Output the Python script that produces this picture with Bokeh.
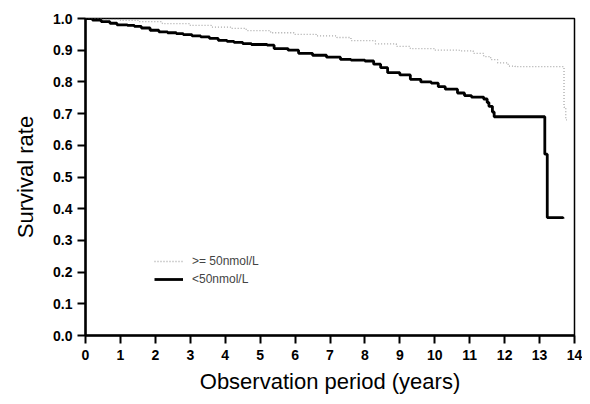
from bokeh.plotting import figure
from bokeh.models import Range1d, Legend, LegendItem, FixedTicker
from bokeh.embed import file_html
from bokeh.resources import INLINE

# <50 nmol/L group (Kaplan-Meier step points)
low_t = [0, 0.2, 0.45, 0.7, 0.9, 1.2, 1.4, 1.6, 1.85, 2.1, 2.35, 2.6, 2.8, 3.05, 3.3,
         3.55, 3.8, 4.05, 4.25, 4.5, 4.75, 5.2, 5.4, 5.8, 6.1, 6.5, 6.9, 7.3, 7.6, 8.0,
         8.25, 8.45, 8.65, 9.0, 9.3, 9.6, 9.9, 10.1, 10.3, 10.65, 10.85, 11.05, 11.4,
         11.5, 11.55, 11.65, 11.7, 13.15, 13.22, 13.67]
low_s = [1.0, 0.995, 0.99, 0.985, 0.98, 0.978, 0.975, 0.97, 0.963, 0.958, 0.955, 0.952,
         0.949, 0.945, 0.942, 0.937, 0.931, 0.928, 0.925, 0.921, 0.918, 0.916, 0.905,
         0.90, 0.89, 0.884, 0.878, 0.871, 0.869, 0.866, 0.856, 0.845, 0.829, 0.822,
         0.808, 0.80, 0.796, 0.785, 0.777, 0.765, 0.757, 0.752, 0.746, 0.735, 0.723,
         0.705, 0.69, 0.572, 0.372, 0.368]

# >=50 nmol/L group
high_t = [0, 0.5, 1.0, 1.5, 2.2, 3.0, 3.6, 4.15, 4.6, 5.3, 6.0, 6.6, 7.2, 7.6, 8.3,
          8.9, 9.3, 10.0, 10.7, 11.1, 11.4, 11.6, 11.8, 12.1, 12.3, 13.7, 13.75, 13.78]
high_s = [1.0, 0.997, 0.994, 0.99, 0.984, 0.978, 0.973, 0.969, 0.962, 0.955, 0.95,
          0.945, 0.94, 0.93, 0.92, 0.912, 0.905, 0.90, 0.898, 0.89, 0.88, 0.87, 0.86,
          0.85, 0.848, 0.72, 0.68, 0.68]

x_ticks = list(range(0, 15))
y_ticks = [0.0, 0.1, 0.2, 0.3, 0.4, 0.5, 0.6, 0.7, 0.8, 0.9, 1.0]
y_tick_labels = {v: f"{v:.1f}" for v in y_ticks}
labels = [">= 50nmol/L", "<50nmol/L"]

FONT = "Liberation Sans"

p = figure(width=582, height=396, output_backend="svg", toolbar_location=None,
           x_range=Range1d(0, 14), y_range=Range1d(0, 1.0),
           min_border_left=85, min_border_right=8, min_border_top=18, min_border_bottom=58)

p.xgrid.visible = False
p.ygrid.visible = False
p.outline_line_color = "black"
p.outline_line_width = 1.5
p.background_fill_color = "white"
p.border_fill_color = "white"

r_high = p.step(high_t, high_s, mode="after", line_color="#a8a8a8", line_width=1.3,
                line_dash="1 2")
r_low = p.step(low_t, low_s, mode="after", line_color="black", line_width=2.8)

for ax in (p.xaxis[0], p.yaxis[0]):
    ax.axis_line_width = 2.5
    ax.axis_line_color = "black"
    ax.major_tick_line_width = 2
    ax.major_tick_in = 0
    ax.major_tick_out = 8
    ax.minor_tick_line_color = None
    ax.major_label_text_font = FONT
    ax.major_label_text_font_style = "bold"
    ax.major_label_text_font_size = "14px"
    ax.major_label_text_color = "black"
    ax.axis_label_text_font = FONT
    ax.axis_label_text_font_style = "normal"
    ax.axis_label_text_font_size = "22px"
    ax.axis_label_text_color = "black"

p.xaxis.ticker = FixedTicker(ticks=x_ticks)
p.yaxis.ticker = FixedTicker(ticks=y_ticks)
p.yaxis.major_label_overrides = y_tick_labels
p.xaxis.axis_label = "Observation period (years)"
p.yaxis.axis_label = "Survival rate"
p.xaxis.major_label_standoff = 6
p.yaxis.major_label_standoff = 5
p.xaxis.axis_label_standoff = 6
p.yaxis.axis_label_standoff = 12

legend = Legend(items=[LegendItem(label=labels[0], renderers=[r_high]),
                       LegendItem(label=labels[1], renderers=[r_low])],
                location=(69, 49), border_line_color=None, background_fill_alpha=0,
                padding=0, margin=0, spacing=4, glyph_width=29, glyph_height=14,
                label_height=14, label_standoff=9,
                label_text_font=FONT, label_text_font_size="12px")
p.add_layout(legend, "center")

open("out.html", "w").write(file_html(p, INLINE))
